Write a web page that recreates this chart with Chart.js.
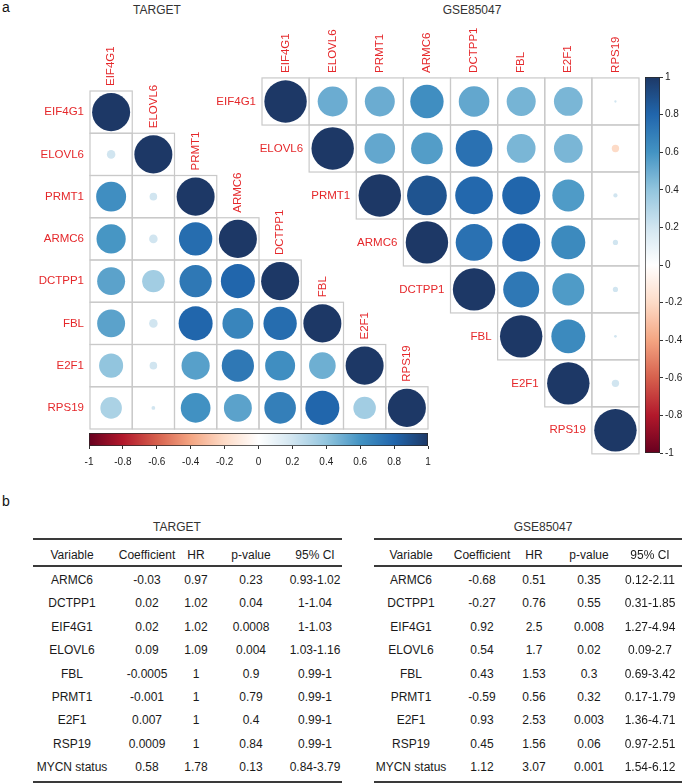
<!DOCTYPE html>
<html>
<head>
<meta charset="utf-8">
<script src="https://cdn.jsdelivr.net/npm/chart.js@4.4.1/dist/chart.umd.min.js"></script>
<style>
  body { margin: 0; background: #fff; font-family: "Liberation Sans", Arial, sans-serif; }
  #page { position: relative; width: 685px; height: 784px; overflow: hidden; }
  canvas { position: absolute; }
  .txt { position: absolute; white-space: nowrap; line-height: 14px; font-size: 12px; color: #1a1a1a; transform: translateX(-50%); }
  .rule { position: absolute; background: #3a3a3a; }
  .panel { position: absolute; font-size: 14px; line-height: 14px; color: #111; }
</style>
</head>
<body>
<div id="page">
  <div class="panel" style="left:2px;top:0px">a</div>
  <div class="panel" style="left:2px;top:494px">b</div>
  <div class="txt" style="left:157px;top:3px;color:#333">TARGET</div>
  <div class="txt" style="left:472px;top:3px;color:#333">GSE85047</div>
  <canvas id="corLeft" width="685" height="475" style="left:0;top:0"></canvas>
  <canvas id="corRight" width="685" height="475" style="left:0;top:0"></canvas>
  <canvas id="barH" width="400" height="50" style="left:60px;top:425px"></canvas>
  <canvas id="barV" width="55" height="410" style="left:630px;top:60px"></canvas>
  <div id="tables"></div>
</div>
<script>
// genes in plot order
const genes = ['EIF4G1', 'ELOVL6', 'PRMT1', 'ARMC6', 'DCTPP1', 'FBL', 'E2F1', 'RPS19'];

// TARGET correlations, lower triangle (row i, columns 0..i)
const targetCor = [
  [1],
  [0.05, 1],
  [0.62, 0.04, 1],
  [0.59, 0.05, 0.77, 1],
  [0.54, 0.35, 0.72, 0.80, 1],
  [0.54, 0.05, 0.80, 0.66, 0.77, 1],
  [0.40, 0.04, 0.55, 0.72, 0.62, 0.49, 1],
  [0.32, 0.01, 0.61, 0.54, 0.69, 0.80, 0.35, 1]
];

// GSE85047 correlations, upper triangle (row i, columns i..7)
const gseCor = [
  [1, 0.50, 0.50, 0.62, 0.52, 0.47, 0.46, 0.003],
  [1, 0.52, 0.56, 0.75, 0.46, 0.46, -0.03],
  [1, 0.88, 0.79, 0.80, 0.57, 0.01],
  [1, 0.75, 0.80, 0.64, 0.015],
  [1, 0.72, 0.57, 0.015],
  [1, 0.64, 0.004],
  [1, 0.03],
  [1]
];

// colour ramp (RdBu style, -1 .. 1)
const palette = ['#67001F', '#B2182B', '#D6604D', '#F4A582', '#FDDBC7', '#FFFFFF',
                 '#D1E5F0', '#92C5DE', '#4393C3', '#2166AC', '#1d3866'];

// table b
const tableHeads = ['Variable', 'Coefficient', 'HR', 'p-value', '95% CI'];
const tableVars = ['ARMC6', 'DCTPP1', 'EIF4G1', 'ELOVL6', 'FBL', 'PRMT1', 'E2F1', 'RSP19', 'MYCN status'];
const targetCoef = ['-0.03', '0.02', '0.02', '0.09', '-0.0005', '-0.001', '0.007', '0.0009', '0.58'];
const targetHR = ['0.97', '1.02', '1.02', '1.09', '1', '1', '1', '1', '1.78'];
const targetP = ['0.23', '0.04', '0.0008', '0.004', '0.9', '0.79', '0.4', '0.84', '0.13'];
const targetCI = ['0.93-1.02', '1-1.04', '1-1.03', '1.03-1.16', '0.99-1', '0.99-1', '0.99-1', '0.99-1', '0.84-3.79'];
const gseCoef = ['-0.68', '-0.27', '0.92', '0.54', '0.43', '-0.59', '0.93', '0.45', '1.12'];
const gseHR = ['0.51', '0.76', '2.5', '1.7', '1.53', '0.56', '2.53', '1.56', '3.07'];
const gseP = ['0.35', '0.55', '0.008', '0.02', '0.3', '0.32', '0.003', '0.06', '0.001'];
const gseCI = ['0.12-2.11', '0.31-1.85', '1.27-4.94', '0.09-2.7', '0.69-3.42', '0.17-1.79', '1.36-4.71', '0.97-2.51', '1.54-6.12'];

const labelRed = '#e5282b';
const labelFont = '11.5px "Liberation Sans", Arial, sans-serif';

function hexRgb(h) {
  return [parseInt(h.slice(1, 3), 16), parseInt(h.slice(3, 5), 16), parseInt(h.slice(5, 7), 16)];
}

function colorAt(v) {
  let t = (Math.max(-1, Math.min(1, v)) + 1) / 2 * (palette.length - 1);
  let i = Math.min(Math.floor(t), palette.length - 2);
  let f = t - i;
  let a = hexRgb(palette[i]), b = hexRgb(palette[i + 1]);
  let c = a.map((x, k) => Math.round(x + (b[k] - x) * f));
  return `rgb(${c[0]},${c[1]},${c[2]})`;
}

// tiny dots keep a light tint so they stay visible, like in the figure
const dotColor = v => colorAt(Math.sign(v) * Math.max(Math.abs(v), 0.2));

// cell width in pixels; scales are hidden so the plot area is canvas minus padding
// (works before layout too, chart.js parses bubble radii early)
function cellSize(chart) {
  const p = chart.options.layout.padding;
  return (chart.width - p.left - p.right) / genes.length;
}

// grid cells + gene labels for one triangle
function corrDecor(lower) {
  return {
    id: 'corrDecor',
    beforeDatasetsDraw(chart) {
      const { ctx, scales: { x, y } } = chart;
      const cell = Math.abs(x.getPixelForValue(1) - x.getPixelForValue(0));
      ctx.save();
      ctx.strokeStyle = '#c9c9c9';
      ctx.lineWidth = 1.2;
      for (let i = 0; i < genes.length; i++) {
        for (let j = 0; j < genes.length; j++) {
          if (lower ? j > i : j < i) continue;
          ctx.strokeRect(x.getPixelForValue(j) - cell / 2, y.getPixelForValue(i) - cell / 2, cell, cell);
        }
      }
      ctx.restore();
    },
    afterDraw(chart) {
      const { ctx, scales: { x, y } } = chart;
      const cell = Math.abs(x.getPixelForValue(1) - x.getPixelForValue(0));
      ctx.save();
      ctx.font = labelFont;
      ctx.fillStyle = labelRed;
      genes.forEach((g, i) => {
        // row label
        let rowStart = lower ? 0 : i;
        ctx.textAlign = 'right';
        ctx.textBaseline = 'middle';
        ctx.fillText(g, x.getPixelForValue(rowStart) - cell / 2 - 6, y.getPixelForValue(i));
        // column label, rotated
        let colTop = lower ? i : 0;
        ctx.save();
        ctx.translate(x.getPixelForValue(i), y.getPixelForValue(colTop) - cell / 2 - 5);
        ctx.rotate(-Math.PI / 2);
        ctx.textAlign = 'left';
        ctx.fillText(g, 0, 0);
        ctx.restore();
      });
      ctx.restore();
    }
  };
}

function corrChart(id, points, lower, padding) {
  return new Chart(document.getElementById(id), {
    type: 'bubble',
    data: {
      datasets: [{
        data: points,
        backgroundColor: c => dotColor(c.raw.v),
        borderWidth: 0,
        radius: c => Math.max(0.01, 0.45 * cellSize(c.chart) * Math.sqrt(Math.abs(c.raw.v)))
      }]
    },
    options: {
      responsive: false,
      animation: false,
      events: [],
      layout: { padding: padding },
      plugins: { legend: { display: false }, tooltip: { enabled: false } },
      scales: {
        x: { type: 'linear', min: -0.5, max: genes.length - 0.5, display: false },
        y: { type: 'linear', min: -0.5, max: genes.length - 0.5, reverse: true, display: false }
      }
    },
    plugins: [corrDecor(lower)]
  });
}

let targetPoints = [];
targetCor.forEach((row, i) => row.forEach((v, j) => targetPoints.push({ x: j, y: i, v: v })));
let gsePoints = [];
gseCor.forEach((row, i) => row.forEach((v, k) => gsePoints.push({ x: i + k, y: i, v: v })));

corrChart('corLeft', targetPoints, true, { left: 90, top: 91, right: 257, bottom: 46 });
corrChart('corRight', gsePoints, false, { left: 262, top: 78, right: 46, bottom: 21 });

// colour bars
function barGradient(c, horizontal) {
  const chart = c.chart;
  if (!chart.chartArea) return null;
  const s = horizontal ? chart.scales.x : chart.scales.y;
  const p0 = s.getPixelForValue(-1), p1 = s.getPixelForValue(1);
  const g = horizontal ? chart.ctx.createLinearGradient(p0, 0, p1, 0)
                       : chart.ctx.createLinearGradient(0, p0, 0, p1);
  for (let k = 0; k <= 40; k++) g.addColorStop(k / 40, colorAt(-1 + k / 20));
  return g;
}

const tickFmt = v => String(Math.round(v * 10) / 10);

function colorBar(id, horizontal, padding, axisSize, tickPad) {
  const valueAxis = {
    type: 'linear', min: -1, max: 1,
    position: horizontal ? 'bottom' : 'right',
    ticks: { stepSize: 0.2, callback: tickFmt, padding: tickPad, color: '#222',
             font: { size: 10, family: '"Liberation Sans", Arial, sans-serif' }, maxRotation: 0, autoSkip: false },
    grid: { drawOnChartArea: false, tickLength: 3, tickColor: '#333' },
    border: { display: false },
    afterFit: s => { if (horizontal) s.height = axisSize; else s.width = axisSize; }
  };
  const catAxis = { type: 'category', display: false };
  return new Chart(document.getElementById(id), {
    type: 'bar',
    data: {
      labels: [''],
      datasets: [{
        data: [[-1, 1]],
        backgroundColor: c => barGradient(c, horizontal),
        borderColor: '#2a2a2a',
        borderWidth: 1,
        borderSkipped: false,
        barPercentage: 1,
        categoryPercentage: 1
      }]
    },
    options: {
      indexAxis: horizontal ? 'y' : 'x',
      responsive: false,
      animation: false,
      events: [],
      layout: { padding: padding },
      plugins: { legend: { display: false }, tooltip: { enabled: false } },
      scales: horizontal ? { x: valueAxis, y: catAxis } : { y: valueAxis, x: catAxis }
    }
  });
}

colorBar('barH', true, { left: 29, right: 32, top: 8, bottom: 0 }, 29, 7);
colorBar('barV', false, { left: 15, right: 0, top: 17, bottom: 17 }, 25, 2);

// tables
const host = document.getElementById('tables');
function put(text, cx, top, extra) {
  const d = document.createElement('div');
  d.className = 'txt';
  d.textContent = text;
  d.style.left = cx + 'px';
  d.style.top = top + 'px';
  if (extra) d.style.color = extra;
  host.appendChild(d);
}
function rule(x0, x1, y, h) {
  const d = document.createElement('div');
  d.className = 'rule';
  d.style.left = x0 + 'px';
  d.style.width = (x1 - x0) + 'px';
  d.style.top = (y - h / 2) + 'px';
  d.style.height = h + 'px';
  host.appendChild(d);
}
function table(title, titleX, x0, x1, centers, columns) {
  put(title, titleX, 520, '#333');
  rule(x0, x1, 539, 2);
  rule(x0, x1, 566, 1.5);
  rule(x0, x1, 782, 2);
  tableHeads.forEach((h, k) => put(h, centers[k], 548));
  columns.forEach((col, k) => col.forEach((val, r) => put(val, centers[k], 573 + r * 23.4)));
}
table('TARGET', 177, 33, 342, [72, 147, 196, 251, 315],
      [tableVars, targetCoef, targetHR, targetP, targetCI]);
table('GSE85047', 543, 374, 682, [411, 482, 534, 589, 650],
      [tableVars, gseCoef, gseHR, gseP, gseCI]);
</script>
</body>
</html>
